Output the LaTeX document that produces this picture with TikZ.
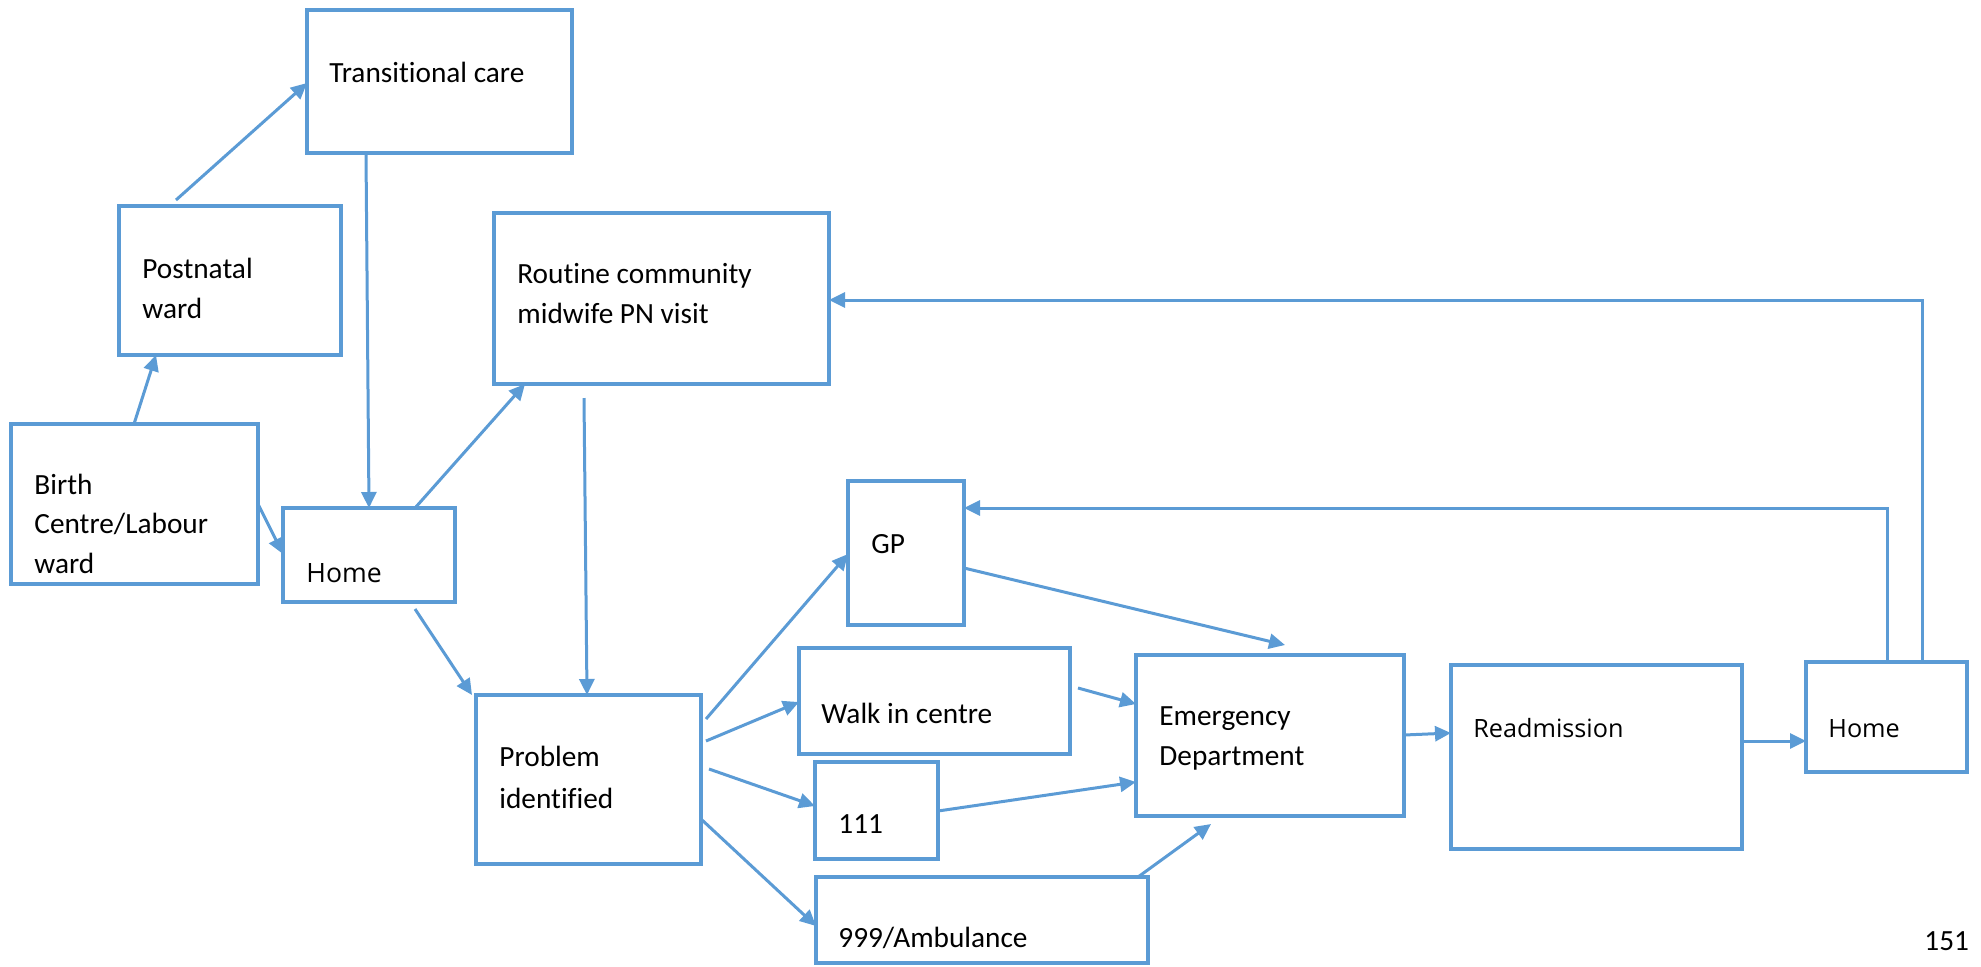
\documentclass[tikz,border=0pt]{standalone}
\usepackage{fontspec}
\setmainfont{Carlito}[Ligatures={NoCommon}]
\newfontfamily\uifont{Open Sans}
\usetikzlibrary{arrows.meta,fit}
\definecolor{flowblue}{RGB}{91,155,213}
\tikzset{
  box/.style={draw=flowblue, line width=1.75pt, inner sep=0pt, outer sep=0pt},
  arr/.style={draw=flowblue, line width=1.5pt, -{Triangle[length=8pt,width=7.5pt]}},
  % multi-line labels are placed by the baseline of their last line
  lbl/.style={anchor=base west, inner sep=0pt, align=left,
              font=\fontsize{14.65}{19.6}\selectfont},
  ui/.style={anchor=base west, inner sep=0pt,
             font=\uifont\fontsize{12.6}{15}\selectfont},
}
\begin{document}
\begin{tikzpicture}[x=0.5pt, y=-0.5pt]
\useasboundingbox (0,0) rectangle (1981,966);

% boxes
\node[box, fit={(307,10)(572,153)}]   (tc)   {};
\node[box, fit={(119,206)(341,355)}]  (pw)   {};
\node[box, fit={(11,424)(258,584)}]   (bc)   {};
\node[box, fit={(283,508)(455,602)}]  (h1)   {};
\node[box, fit={(494,213)(829,384)}]  (rc)   {};
\node[box, fit={(476,695)(701,864)}]  (pi)   {};
\node[box, fit={(848,481)(964,625)}]  (gp)   {};
\node[box, fit={(799,648)(1070,754)}] (wc)   {};
\node[box, fit={(815,762)(938,859)}]  (n111) {};
\node[box, fit={(816,877)(1148,963)}] (n999) {};
\node[box, fit={(1136,655)(1404,816)}] (ed)  {};
\node[box, fit={(1451,665)(1742,849)}] (ra)  {};
\node[box, fit={(1806,662)(1967,772)}] (h2)  {};

% labels
\node[lbl] (tct)  at (329,82)  {Transitional care};
\node[lbl] (pwt)  at (142,318) {Postnatal\\ward};
\node[lbl] (bct)  at (34,573)  {Birth\\Centre/Labour\\ward};
\node[ui, font=\uifont\fontsize{13.3}{16}\selectfont] (h1t) at (306,582) {Home};
\node[lbl] (rct)  at (517,323) {Routine community\\midwife PN visit};
\node[lbl, font=\fontsize{14.65}{21}\selectfont] (pit) at (499,808) {Problem\\identified};
\node[lbl] (gpt)  at (871,553) {GP};
\node[lbl] (wct)  at (821,723) {Walk in centre};
\node[lbl] (t111) at (838,833) {111};
\node[lbl] (t999) at (838,947) {999/Ambulance};
\node[lbl] (edt)  at (1159,765) {Emergency\\Department};
\node[ui]  (rat)  at (1473,737) {Readmission};
\node[ui]  (h2t)  at (1828,737) {Home};
\node[lbl] (pgno) at (1924,950) {151};

% loose ends of connectors
\coordinate (pwtop)  at (176,200);
\coordinate (rcfoot) at (584,398);
\coordinate (h1foot) at (415,609);
\coordinate (pi1)    at (706,719);
\coordinate (pi2)    at (706,741);
\coordinate (pi3)    at (709,769);
\coordinate (edtop)  at (1285,645);
\coordinate (wcend)  at (1078,688);
\coordinate (edfoot) at (1211,824);

% connectors
\draw[arr] (bc.north -| 134,0) -- (pw.south -| 156,0);
\draw[arr] (pwtop) -- (tc.west |- 0,83);
\draw[arr] (bc.east |- 0,504) -- (h1.west |- 0,554);
\draw[arr] (tc.south -| 366,0) -- (h1.north -| 369,0);
\draw[arr] (h1.north -| 415,0) -- (rc.south -| 525,0);
\draw[arr] (rcfoot) -- (pi.north -| 587,0);
\draw[arr] (h1foot) -- (pi.north -| 472,0);
\draw[arr] (pi1) -- (gp.west |- 0,554);
\draw[arr] (pi2) -- (wc.west |- 0,702);
\draw[arr] (pi3) -- (n111.west |- 0,806);
\draw[arr] (pi.east |- 0,819) -- (n999.west |- 0,926);
\draw[arr] (gp.east |- 0,568) -- (edtop);
\draw[arr] (wcend) -- (ed.west |- 0,704);
\draw[arr] (n111.east |- 0,811) -- (ed.west |- 0,782);
\draw[arr] (n999.north -| 1138,0) -- (edfoot);
\draw[arr] (ed.east |- 0,735) -- (ra.west |- 0,733);
\draw[arr] (ra.east |- 0,741) -- (h2.west |- 0,741);
\draw[arr] (h2.north -| 1887,0) |- (gp.east |- 0,508);
\draw[arr] (h2.north -| 1944,0) -- (h2.north -| 1922,0) |- (rc.east |- 0,300);
\end{tikzpicture}
\end{document}
